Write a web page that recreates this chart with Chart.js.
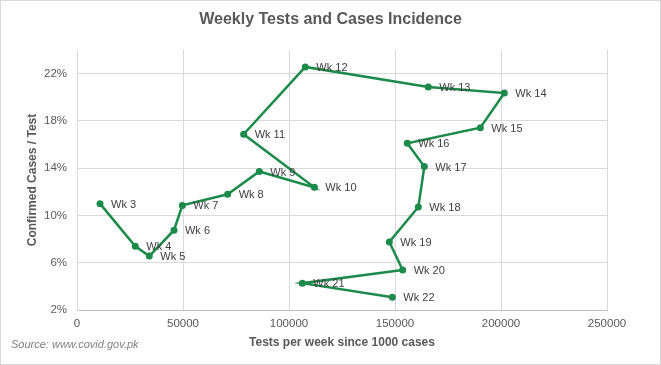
<!DOCTYPE html>
<html>
<head>
<meta charset="utf-8">
<script src="https://cdn.jsdelivr.net/npm/chart.js@4"></script>
<style>
  html,body{margin:0;padding:0;background:#fff;}
  #wrap{width:661px;height:365px;}
</style>
</head>
<body>
<div id="wrap"><canvas id="chart" width="661" height="365"></canvas></div>
<script>
/* DATA */
const weeks = ["Wk 3","Wk 4","Wk 5","Wk 6","Wk 7","Wk 8","Wk 9","Wk 10","Wk 11","Wk 12",
  "Wk 13","Wk 14","Wk 15","Wk 16","Wk 17","Wk 18","Wk 19","Wk 20","Wk 21","Wk 22"];
const testsPerWeek = [10850,27500,34100,45750,49700,71070,86000,111950,78620,107700,
  165700,201570,190250,155800,163840,161000,147330,153620,106300,148750];
const casesPerTest = [0.110,0.0739,0.0657,0.0875,0.1085,0.1179,0.1372,0.1238,0.1687,0.2257,
  0.2087,0.2036,0.1743,0.1610,0.1414,0.1071,0.0776,0.0538,0.0427,0.0308];
const yTicks = [0.02,0.06,0.10,0.14,0.18,0.22];

const GREEN = "#1b8a4a";
const FONT = "'Liberation Sans', Arial, sans-serif";

/* PLUGINS */
const frame = {
  id:"frame",
  beforeDraw(c){
    const ctx=c.ctx;
    ctx.save();
    ctx.fillStyle="#fff";
    ctx.fillRect(0,0,c.width,c.height);
    ctx.strokeStyle="#d9d9d9";
    ctx.lineWidth=1;
    ctx.strokeRect(0.5,0.5,c.width-1,c.height-1);
    ctx.restore();
  },
  afterDraw(c){
    const ctx=c.ctx;
    ctx.save();
    ctx.font="italic 11px "+FONT;
    ctx.fillStyle="#7f7f7f";
    ctx.textBaseline="middle";
    ctx.fillText("Source: www.covid.gov.pk",11,345);
    ctx.restore();
  }
};

const weekLabels = {
  id:"weekLabels",
  afterDatasetsDraw(c){
    const ctx=c.ctx;
    const meta=c.getDatasetMeta(0);
    ctx.save();
    ctx.font="11px "+FONT;
    ctx.fillStyle="#404040";
    ctx.textBaseline="middle";
    meta.data.forEach((el,i)=>{
      ctx.fillText(weeks[i], el.x+11, el.y+1);
    });
    ctx.restore();
  }
};

/* CHART */
new Chart(document.getElementById("chart"),{
  type:"scatter",
  data:{
    datasets:[{
      data:testsPerWeek.map((x,i)=>({x:x,y:casesPerTest[i]})),
      showLine:true,
      borderColor:GREEN,
      backgroundColor:GREEN,
      borderWidth:2.5,
      pointRadius:3.5,
      pointBorderWidth:0,
      pointBackgroundColor:GREEN
    }]
  },
  options:{
    responsive:false,
    animation:false,
    layout:{padding:0},
    plugins:{
      legend:{display:false},
      tooltip:{enabled:false},
      title:{
        display:true,
        text:"Weekly Tests and Cases Incidence",
        color:"#595959",
        font:{family:FONT,size:16,weight:"bold"},
        padding:{top:10,bottom:20.8}
      }
    },
    scales:{
      x:{
        type:"linear",
        min:0,max:250000,
        ticks:{stepSize:50000,color:"#595959",font:{family:FONT,size:11.5},padding:7,maxRotation:0,
          callback:v=>String(v)},
        grid:{color:"#d9d9d9",drawTicks:false},
        border:{color:"#bfbfbf"},
        title:{display:true,text:"Tests per week since 1000 cases",color:"#595959",
          font:{family:FONT,size:12,weight:"bold"},padding:{top:15.5,bottom:15.5}},
        afterFit(s){ s.height=55; }
      },
      y:{
        type:"linear",
        min:0.02,max:0.24,
        afterBuildTicks(s){ s.ticks=yTicks.map(v=>({value:v})); },
        ticks:{color:"#595959",font:{family:FONT,size:11.5},padding:10,
          callback:v=>Math.round(v*100)+"%"},
        grid:{color:"#d9d9d9",drawTicks:false},
        border:{color:"#d9d9d9"},
        title:{display:true,text:"Confirmed Cases / Test",color:"#595959",
          font:{family:FONT,size:12,weight:"bold"},padding:{top:25,bottom:0}},
        afterFit(s){ s.width=77; }
      },
      // empty right-hand margin so the plot ends where the reference's does
      yRight:{
        type:"linear",
        position:"right",
        min:0,max:1,
        grid:{display:false,drawTicks:false},
        border:{display:false},
        ticks:{display:false},
        afterFit(s){ s.width=54; }
      }
    }
  },
  plugins:[frame,weekLabels]
});
</script>
</body>
</html>
